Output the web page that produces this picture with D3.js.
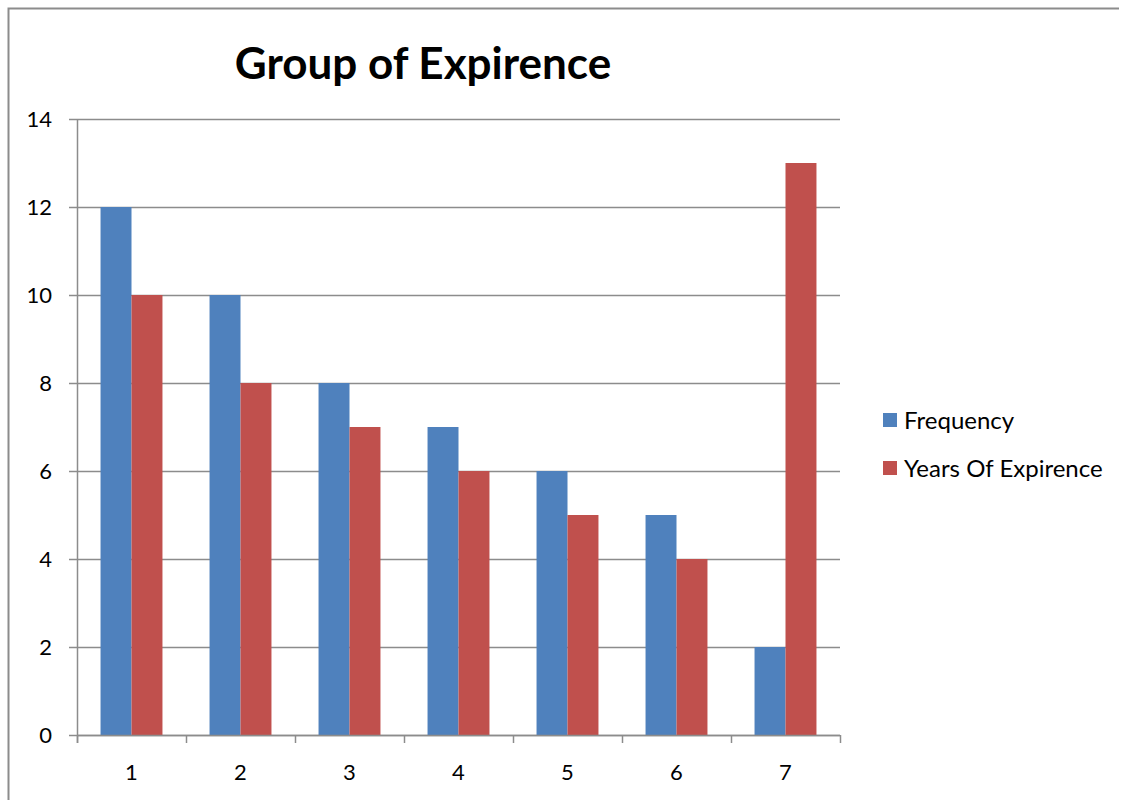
<!DOCTYPE html>
<html>
<head>
<meta charset="utf-8">
<script src="https://cdn.jsdelivr.net/npm/d3@7"></script>
<style>
  html, body { margin: 0; padding: 0; background: #fff; }
  svg { display: block; font-family: Lato, "Open Sans", sans-serif; }
</style>
</head>
<body>
<svg id="chart" width="1122" height="800"></svg>
<script>
const categories = ["1", "2", "3", "4", "5", "6", "7"];
const seriesNames = ["Frequency", "Years Of Expirence"];
const frequency = [12, 10, 8, 7, 6, 5, 2];
const yearsOfExpirence = [10, 8, 7, 6, 5, 4, 13];
const yTicks = [0, 2, 4, 6, 8, 10, 12, 14];
const colors = ["#4F81BD", "#C0504D"];

const svg = d3.select("#chart");
const margin = { left: 77, right: 840, top: 119, bottom: 735 };

// outer chart frame (top and left edges visible)
svg.append("path")
  .attr("d", "M8.5,800 L8.5,8.5 L1119,8.5")
  .attr("fill", "none").attr("stroke", "#8c8c8c").attr("stroke-width", 2);

const x = d3.scaleBand().domain(categories).range([margin.left, margin.right]);
const y = d3.scaleLinear().domain([0, 14]).range([margin.bottom, margin.top]);
const inner = d3.scaleBand().domain(seriesNames).range([0, x.bandwidth()])
  .paddingOuter(0.76).paddingInner(0);

// gridlines
svg.append("g").selectAll("line").data(yTicks).join("line")
  .attr("x1", margin.left - 8).attr("x2", margin.right)
  .attr("y1", d => Math.round(y(d)) + 0.5).attr("y2", d => Math.round(y(d)) + 0.5)
  .attr("stroke", "#8c8c8c").attr("stroke-width", 1.5);

// bars
const data = categories.map((c, i) => ({ c, vals: [frequency[i], yearsOfExpirence[i]] }));
const groups = svg.append("g").selectAll("g").data(data).join("g")
  .attr("transform", d => `translate(${x(d.c)},0)`);
groups.selectAll("rect").data(d => d.vals.map((v, k) => ({ v, k }))).join("rect")
  .attr("x", d => inner(seriesNames[d.k]))
  .attr("width", inner.bandwidth())
  .attr("y", d => y(d.v))
  .attr("height", d => y(0) - y(d.v))
  .attr("fill", d => colors[d.k]);

// y axis line
svg.append("line")
  .attr("x1", margin.left + 0.5).attr("x2", margin.left + 0.5)
  .attr("y1", margin.top).attr("y2", margin.bottom + 8)
  .attr("stroke", "#8c8c8c").attr("stroke-width", 1.5);

// x axis line and category boundary ticks
svg.append("line")
  .attr("x1", margin.left).attr("x2", margin.right)
  .attr("y1", margin.bottom + 0.5).attr("y2", margin.bottom + 0.5)
  .attr("stroke", "#8c8c8c").attr("stroke-width", 1.5);
const bounds = categories.map(c => x(c)).concat([margin.right]);
svg.append("g").selectAll("line").data(bounds).join("line")
  .attr("x1", d => Math.round(d) + 0.5).attr("x2", d => Math.round(d) + 0.5)
  .attr("y1", margin.bottom).attr("y2", margin.bottom + 8)
  .attr("stroke", "#8c8c8c").attr("stroke-width", 1.5);

// y tick labels
svg.append("g").selectAll("text").data(yTicks).join("text")
  .attr("x", 52).attr("y", d => y(d) + 8)
  .attr("text-anchor", "end").attr("font-size", 22).attr("fill", "#000")
  .text(d => d);

// x tick labels
svg.append("g").selectAll("text").data(categories).join("text")
  .attr("x", d => x(d) + x.bandwidth() / 2).attr("y", 780)
  .attr("text-anchor", "middle").attr("font-size", 22).attr("fill", "#000")
  .text(d => d);

// title
svg.append("text")
  .attr("x", 423).attr("y", 79)
  .attr("text-anchor", "middle").attr("font-size", 44).attr("font-weight", "bold")
  .attr("fill", "#000")
  .text("Group of Expirence");

// legend
const legend = svg.append("g").selectAll("g").data(seriesNames).join("g")
  .attr("transform", (d, i) => `translate(883,${413 + i * 48})`);
legend.append("rect").attr("width", 14).attr("height", 14)
  .attr("fill", (d, i) => colors[i]);
legend.append("text").attr("x", 21).attr("y", 16)
  .attr("font-size", 24).attr("fill", "#000")
  .text(d => d);
</script>
</body>
</html>
